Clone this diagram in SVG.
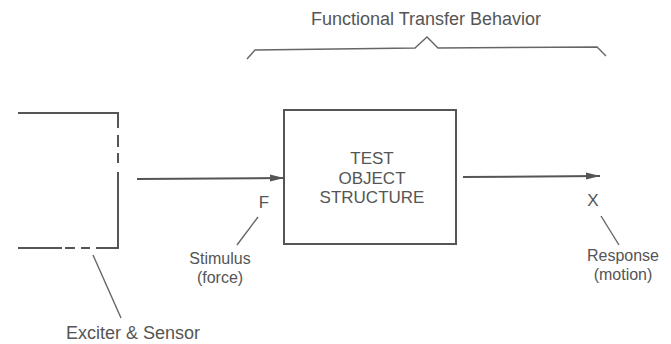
<svg xmlns="http://www.w3.org/2000/svg" width="671" height="344" viewBox="0 0 671 344">
<defs>
<style>
.ln{stroke:#555;stroke-width:2;fill:none}
.th{stroke:#666;stroke-width:1.4;fill:none}
text{font-family:"Liberation Sans",Arial,sans-serif;fill:#555;font-size:17px}
.c{text-anchor:middle}
.lb{font-size:16px}
</style>
<marker id="ah" markerWidth="14" markerHeight="8" refX="14" refY="4" orient="auto" markerUnits="userSpaceOnUse">
<path d="M0,0.5 L14,4 L0,7.5 Z" fill="#555"/>
</marker>
</defs>
<rect width="671" height="344" fill="#fff"/>
<g id="bracket">
<path class="th" d="M247,59 L255,50 L415,48 L427,37 L438,48 L597,47 L606,56"/>
<text x="426" y="25" class="c" style="font-size:18px">Functional Transfer Behavior</text>
</g>
<g id="exciter">
<path class="ln" d="M18,113 H118 V128"/>
<path class="ln" d="M118,135 V147 M118,153 V163"/>
<path class="ln" d="M118,172 V248 H96"/>
<path class="ln" d="M90,248 H81 M75,248 H65"/>
<path class="ln" d="M62,248 H18"/>
<text x="66" y="339" style="font-size:18px">Exciter &amp; Sensor</text>
</g>
<g id="test-object">
<rect class="ln" x="284" y="110" width="172" height="134"/>
<text x="372" y="164" class="c">TEST</text>
<text x="372" y="184" class="c">OBJECT</text>
<text x="372" y="203" class="c">STRUCTURE</text>
</g>
<g id="stimulus">
<text x="264" y="208" class="c">F</text>
<text x="220" y="264" class="c lb">Stimulus</text>
<text x="220" y="283" class="c lb">(force)</text>
</g>
<g id="response">
<text x="593" y="206" class="c">X</text>
<text x="623" y="261" class="c lb">Response</text>
<text x="623" y="280" class="c lb">(motion)</text>
</g>
<g id="connectors">
<line class="ln" x1="137" y1="179" x2="284" y2="178" marker-end="url(#ah)"/>
<line class="ln" x1="463" y1="177" x2="600" y2="176" marker-end="url(#ah)"/>
<line class="th" x1="258" y1="217" x2="237" y2="245"/>
<line class="th" x1="601" y1="216" x2="619" y2="245"/>
<line class="th" x1="93" y1="255" x2="121" y2="318"/>
</g>
</svg>
